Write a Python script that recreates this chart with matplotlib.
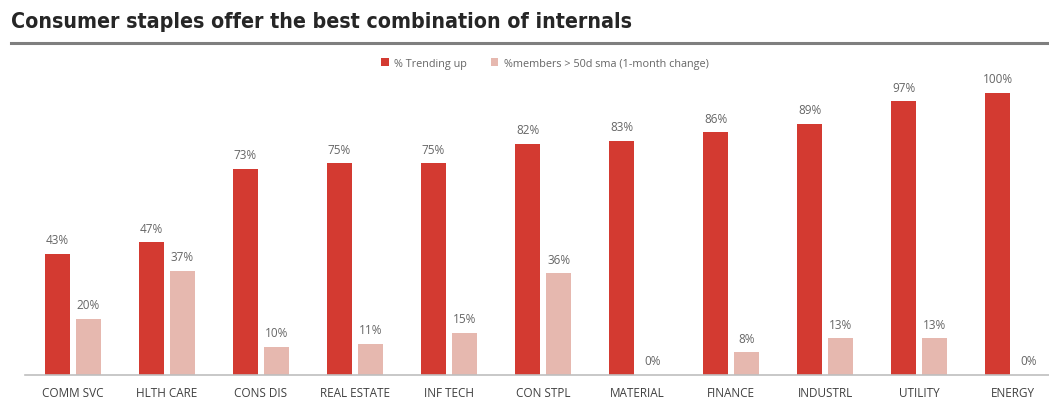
import matplotlib
matplotlib.use("Agg")
from matplotlib import pyplot as plt
import numpy as np

# Chart data
categories = ["COMM SVC", "HLTH CARE", "CONS DIS", "REAL ESTATE", "INF TECH", "CON STPL",
              "MATERIAL", "FINANCE", "INDUSTRL", "UTILITY", "ENERGY"]
trendingUp = [43, 47, 73, 75, 75, 82, 83, 86, 89, 97, 100]
membersAbove50d = [20, 37, 10, 11, 15, 36, 0, 8, 13, 13, 0]

seriesNames = ["% Trending up", "%members > 50d sma (1-month change)"]

redColor = "#D33A31"
pinkColor = "#E6B8AF"
textGrey = "#666666"


def main():
    plt.rcParams['font.family'] = ['Open Sans', 'DejaVu Sans']

    fig = plt.figure(figsize=(10.49, 4.06), dpi=100)

    # Title and the grey rule under it
    fig.text(11 / 1049, 1 - 22 / 406, "Consumer staples offer the best combination of internals",
             fontsize=15.3, fontweight='bold', fontstretch='condensed', color="#262626",
             va='center', ha='left', family=['DejaVu Sans'])
    fig.add_artist(plt.Line2D([11 / 1049, 1], [1 - 43.5 / 406, 1 - 43.5 / 406],
                              color="#7f7f7f", linewidth=2.2))

    ax = fig.add_axes([25 / 1049, 30 / 406, 1024 / 1049, 299 / 406])

    x = np.arange(len(categories))
    width = 0.266
    offset = 0.165

    redBars = ax.bar(x - offset, trendingUp, width, color=redColor, label=seriesNames[0])
    pinkBars = ax.bar(x + offset, membersAbove50d, width, color=pinkColor, label=seriesNames[1])

    # Value labels above bars
    for bars in (redBars, pinkBars):
        for b in bars:
            h = b.get_height()
            ax.annotate(str(int(h)) + "%", (b.get_x() + b.get_width() / 2, h),
                        xytext=(0, 5.5), textcoords='offset points', ha='center', va='bottom',
                        fontsize=8.5, color=textGrey)

    ax.set_xlim(-0.51, 10.38)
    ax.set_ylim(0, 106)
    ax.set_xticks(x)
    ax.set_xticklabels(categories, fontsize=8.5, color="#404040")
    ax.tick_params(axis='x', length=0, pad=8)
    ax.set_yticks([])

    for s in ['top', 'right', 'left']:
        ax.spines[s].set_visible(False)
    ax.spines['bottom'].set_color("#bfbfbf")
    ax.spines['bottom'].set_linewidth(1.2)

    fig.legend(handles=[redBars, pinkBars], labels=seriesNames, loc='center',
               bbox_to_anchor=(545 / 1049, 1 - 64 / 406), ncol=2, frameon=False,
               fontsize=7.8, handlelength=0.7, handleheight=0.7, columnspacing=2.2,
               handletextpad=0.5, labelcolor=textGrey)

    fig.savefig("out.png", dpi=100)


if __name__ == "__main__":
    main()
